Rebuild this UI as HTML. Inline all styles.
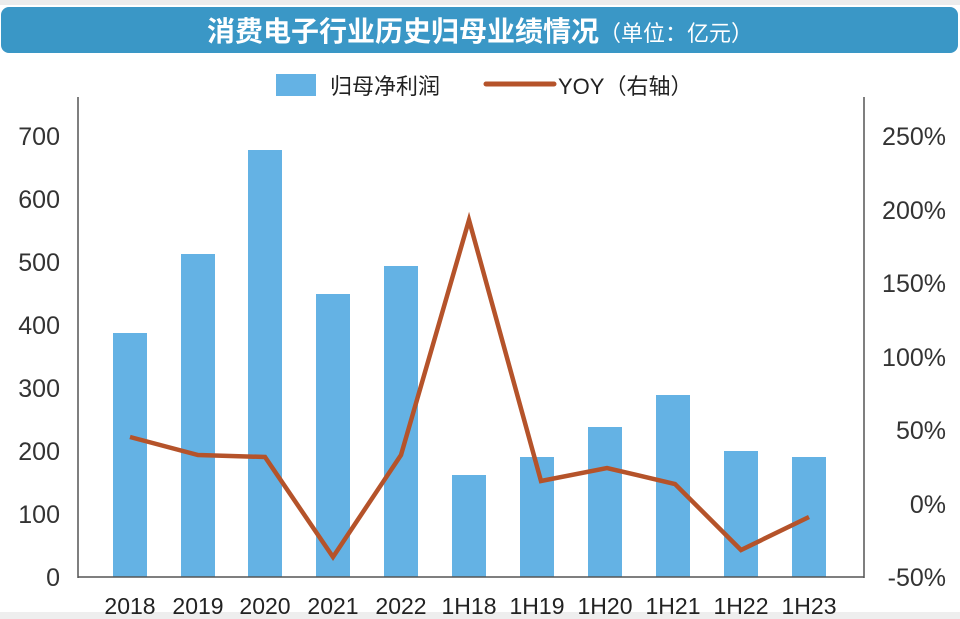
<!DOCTYPE html>
<html><head><meta charset="utf-8"><style>
body{margin:0;background:#fff;width:960px;height:619px;overflow:hidden}
svg{display:block}
text{font-family:"Liberation Sans Narrow","Liberation Sans","Noto Sans CJK SC",sans-serif}
</style></head><body>
<svg width="960" height="619" viewBox="0 0 960 619">
<rect x="0" y="0" width="960" height="5" fill="#ececec"/>
<rect x="0" y="612" width="960" height="7" fill="#eeeeee"/>
<rect x="1" y="7" width="957" height="46" rx="8" fill="#3a97c6"/>
<text x="480" y="41" text-anchor="middle" fill="#fff" font-size="28" font-weight="bold" style='font-family:"Liberation Sans","Noto Sans CJK SC",sans-serif'>消费电子行业历史归母业绩情况<tspan font-size="22" font-weight="normal">（单位：亿元）</tspan></text>
<rect x="276" y="74" width="40" height="22" fill="#64b2e4"/>
<text x="330" y="94" font-size="22" fill="#222" style='font-family:"Liberation Sans","Noto Sans CJK SC",sans-serif'>归母净利润</text>
<line x1="486" y1="84" x2="554" y2="84" stroke="#b5532a" stroke-width="5" stroke-linecap="round"/>
<text x="558" y="94" font-size="22" fill="#222" style='font-family:"Liberation Sans","Noto Sans CJK SC",sans-serif'>YOY（右轴）</text>
<line x1="78" y1="97" x2="78" y2="578" stroke="#555" stroke-width="1.5"/>
<line x1="864" y1="97" x2="864" y2="578" stroke="#555" stroke-width="1.5"/>
<g fill="#64b2e4">
<rect x="113" y="333" width="34" height="244"/>
<rect x="181" y="254" width="34" height="323"/>
<rect x="248" y="150" width="34" height="427"/>
<rect x="316" y="294" width="34" height="283"/>
<rect x="384" y="266" width="34" height="311"/>
<rect x="452" y="475" width="34" height="102"/>
<rect x="520" y="457" width="34" height="120"/>
<rect x="588" y="427" width="34" height="150"/>
<rect x="656" y="395" width="34" height="182"/>
<rect x="724" y="451" width="34" height="126"/>
<rect x="792" y="457" width="34" height="120"/>
</g>
<line x1="78" y1="577" x2="864" y2="577" stroke="#555" stroke-width="1.5"/>
<polyline fill="none" stroke="#b5532a" stroke-width="4.5" stroke-linejoin="miter" points="130,437 198,455 265,457 333,557 401,455 469,220 541,481 607,468 675,484 741,550 809,517"/>
<g font-size="25" fill="#333" text-anchor="end">
<text x="60" y="145">700</text><text x="60" y="208">600</text><text x="60" y="271">500</text><text x="60" y="334">400</text><text x="60" y="397">300</text><text x="60" y="460">200</text><text x="60" y="523">100</text><text x="60" y="586">0</text>
</g>
<g font-size="25" fill="#333" text-anchor="end">
<text x="946" y="145">250%</text><text x="946" y="219">200%</text><text x="946" y="292">150%</text><text x="946" y="366">100%</text><text x="946" y="439">50%</text><text x="946" y="513">0%</text><text x="946" y="586">-50%</text>
</g>
<g font-size="23" fill="#222" text-anchor="middle">
<text x="130" y="614">2018</text><text x="198" y="614">2019</text><text x="265" y="614">2020</text><text x="333" y="614">2021</text><text x="401" y="614">2022</text><text x="469" y="614">1H18</text><text x="537" y="614">1H19</text><text x="605" y="614">1H20</text><text x="673" y="614">1H21</text><text x="741" y="614">1H22</text><text x="809" y="614">1H23</text>
</g>
</svg>
</body></html>
